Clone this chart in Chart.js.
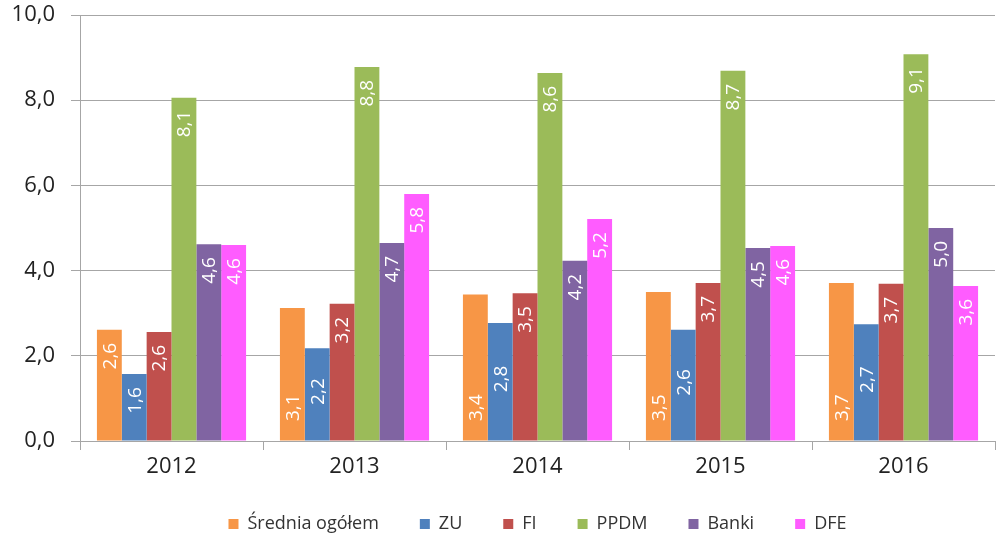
<!DOCTYPE html>
<html>
<head>
<meta charset="utf-8">
<script src="https://cdn.jsdelivr.net/npm/chart.js@4/dist/chart.umd.min.js"></script>
<style>
html,body{margin:0;padding:0;background:#fff;}
#wrap{width:1000px;height:536px;position:relative;}
</style>
</head>
<body>
<div id="wrap"><canvas id="c"></canvas></div>
<script>
const categories = ['2012', '2013', '2014', '2015', '2016'];
const seriesNames = ['Średnia ogółem', 'ZU', 'FI', 'PPDM', 'Banki', 'DFE'];
const sredniaValues = [2.61, 3.12, 3.44, 3.50, 3.71];
const zuValues = [1.57, 2.18, 2.77, 2.61, 2.74];
const fiValues = [2.56, 3.22, 3.47, 3.71, 3.69];
const ppdmValues = [8.06, 8.78, 8.64, 8.69, 9.08];
const bankiValues = [4.62, 4.65, 4.23, 4.53, 5.00];
const dfeValues = [4.60, 5.80, 5.21, 4.58, 3.64];
const yTicks = [0, 2, 4, 6, 8, 10];

const colors = ['#F79646', '#4F81BD', '#C0504D', '#9BBB59', '#8064A2', '#FF5CFF'];
const allValues = [sredniaValues, zuValues, fiValues, ppdmValues, bankiValues, dfeValues];
const FONT = "'Open Sans', sans-serif";

// label placement style per dataset (end = inside end, base = near base, center)
const labelAnchors = {
  0: ['end', 'base', 'base', 'base', 'base'],
  1: ['end', 'center', 'center', 'center', 'center']
};

const fmt = v => v.toFixed(1).replace('.', ',');

const barLabels = {
  id: 'barLabels',
  afterDatasetsDraw(chart) {
    const ctx = chart.ctx;
    const base = chart.scales.y.getPixelForValue(0);
    chart.data.datasets.forEach((ds, di) => {
      const meta = chart.getDatasetMeta(di);
      meta.data.forEach((bar, i) => {
        const anchor = (labelAnchors[di] && labelAnchors[di][i]) || 'end';
        ctx.save();
        ctx.fillStyle = '#ffffff';
        ctx.font = "19px " + FONT;
        ctx.textBaseline = 'middle';
        let y;
        if (anchor === 'end') { y = bar.y + 13; ctx.textAlign = 'right'; }
        else if (anchor === 'base') { y = base - 20; ctx.textAlign = 'left'; }
        else { y = (bar.y + base) / 2 - 3; ctx.textAlign = 'center'; }
        ctx.translate(bar.x + 1, y);
        ctx.rotate(-Math.PI / 2);
        ctx.fillText(fmt(ds.data[i]), 0, 0);
        ctx.restore();
      });
    });
  }
};

new Chart(document.getElementById('c'), {
  type: 'bar',
  data: {
    labels: categories,
    datasets: seriesNames.map((n, k) => ({
      label: n,
      data: allValues[k],
      backgroundColor: colors[k],
      borderWidth: 0,
      barPercentage: 1.0,
      categoryPercentage: 0.815
    }))
  },
  options: {
    responsive: true,
    maintainAspectRatio: false,
    animation: false,
    layout: { padding: { left: 0, right: 5, top: 0, bottom: 0 } },
    plugins: {
      tooltip: { enabled: false },
      legend: {
        position: 'bottom',
        fullSize: false,
        maxHeight: 62,
        labels: {
          font: { family: FONT, size: 18 },
          color: '#333',
          boxWidth: 10,
          boxHeight: 10,
          padding: 41
        }
      }
    },
    scales: {
      x: {
        afterFit(scale) { scale.height = 33; },
        grid: {
          offset: true,
          drawOnChartArea: false,
          drawTicks: true,
          tickLength: 9,
          color: '#a6a6a6'
        },
        border: { color: '#a6a6a6', width: 1 },
        ticks: { font: { family: FONT, size: 22, lineHeight: 1.0 }, color: '#222', padding: 6 }
      },
      y: {
        min: 0,
        max: 10,
        afterBuildTicks(scale) { scale.ticks = yTicks.map(v => ({ value: v })); },
        afterFit(scale) { scale.width = 80; scale.paddingTop = 15; },
        grid: { color: '#a6a6a6', tickLength: 9, drawTicks: true },
        border: { color: '#a6a6a6', width: 1 },
        ticks: {
          font: { family: FONT, size: 22 },
          color: '#222',
          padding: 16,
          callback: v => fmt(v)
        }
      }
    }
  },
  plugins: [barLabels]
});
</script>
</body>
</html>
